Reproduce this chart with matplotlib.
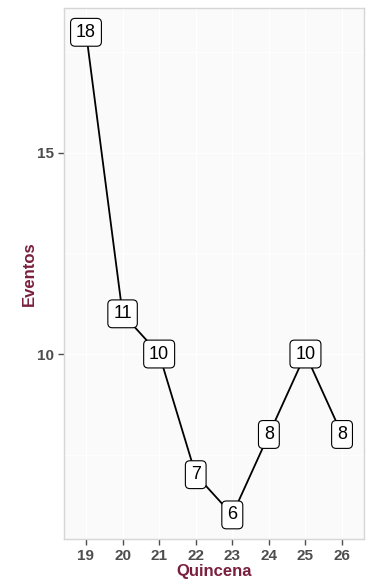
import matplotlib
matplotlib.use("Agg")
import matplotlib.pyplot as plt

plt.rcParams['font.family'] = ['Liberation Sans', 'DejaVu Sans']

quincena = [19, 20, 21, 22, 23, 24, 25, 26]
eventos = [18, 11, 10, 7, 6, 8, 10, 8]

title_col = '#7a1f3d'
tick_col = '#4d4d4d'

fig = plt.figure(figsize=(3.66, 5.84), dpi=100)
ax = fig.add_axes([0.175, 0.077, 0.8195, 0.909])
ax.set_facecolor('#fafafa')

ax.plot(quincena, eventos, color='black', lw=1.3, zorder=2)
for x, y in zip(quincena, eventos):
    ax.text(x, y, str(y), ha='center', va='center', fontsize=13, zorder=3,
            bbox=dict(boxstyle='round,pad=0.3,rounding_size=0.25', fc='white', ec='black', lw=0.8))

ax.set_xlim(18.4, 26.6)
ax.set_ylim(5.4, 18.6)
ax.set_xticks(quincena)
ax.set_yticks([10, 15])
ax.set_yticks([7.5, 12.5, 17.5], minor=True)
ax.set_xticks([], minor=True)
ax.grid(True, which='major', color='white', lw=1.0, zorder=0)
ax.grid(True, which='minor', axis='y', color='white', lw=0.5, zorder=0)
ax.set_axisbelow(True)

for s in ax.spines.values():
    s.set_color('#d6d6d6')
    s.set_linewidth(1.0)

ax.tick_params(which='major', colors=tick_col, length=4, width=1, labelsize=11, pad=3)
ax.tick_params(which='minor', length=0)
for lab in ax.get_xticklabels() + ax.get_yticklabels():
    lab.set_fontweight('bold')

ax.set_xlabel('Quincena', color=title_col, fontsize=12, fontweight='bold', labelpad=1)
ax.set_ylabel('Eventos', color=title_col, fontsize=12, fontweight='bold', labelpad=0)

fig.savefig('out.png', dpi=100)
